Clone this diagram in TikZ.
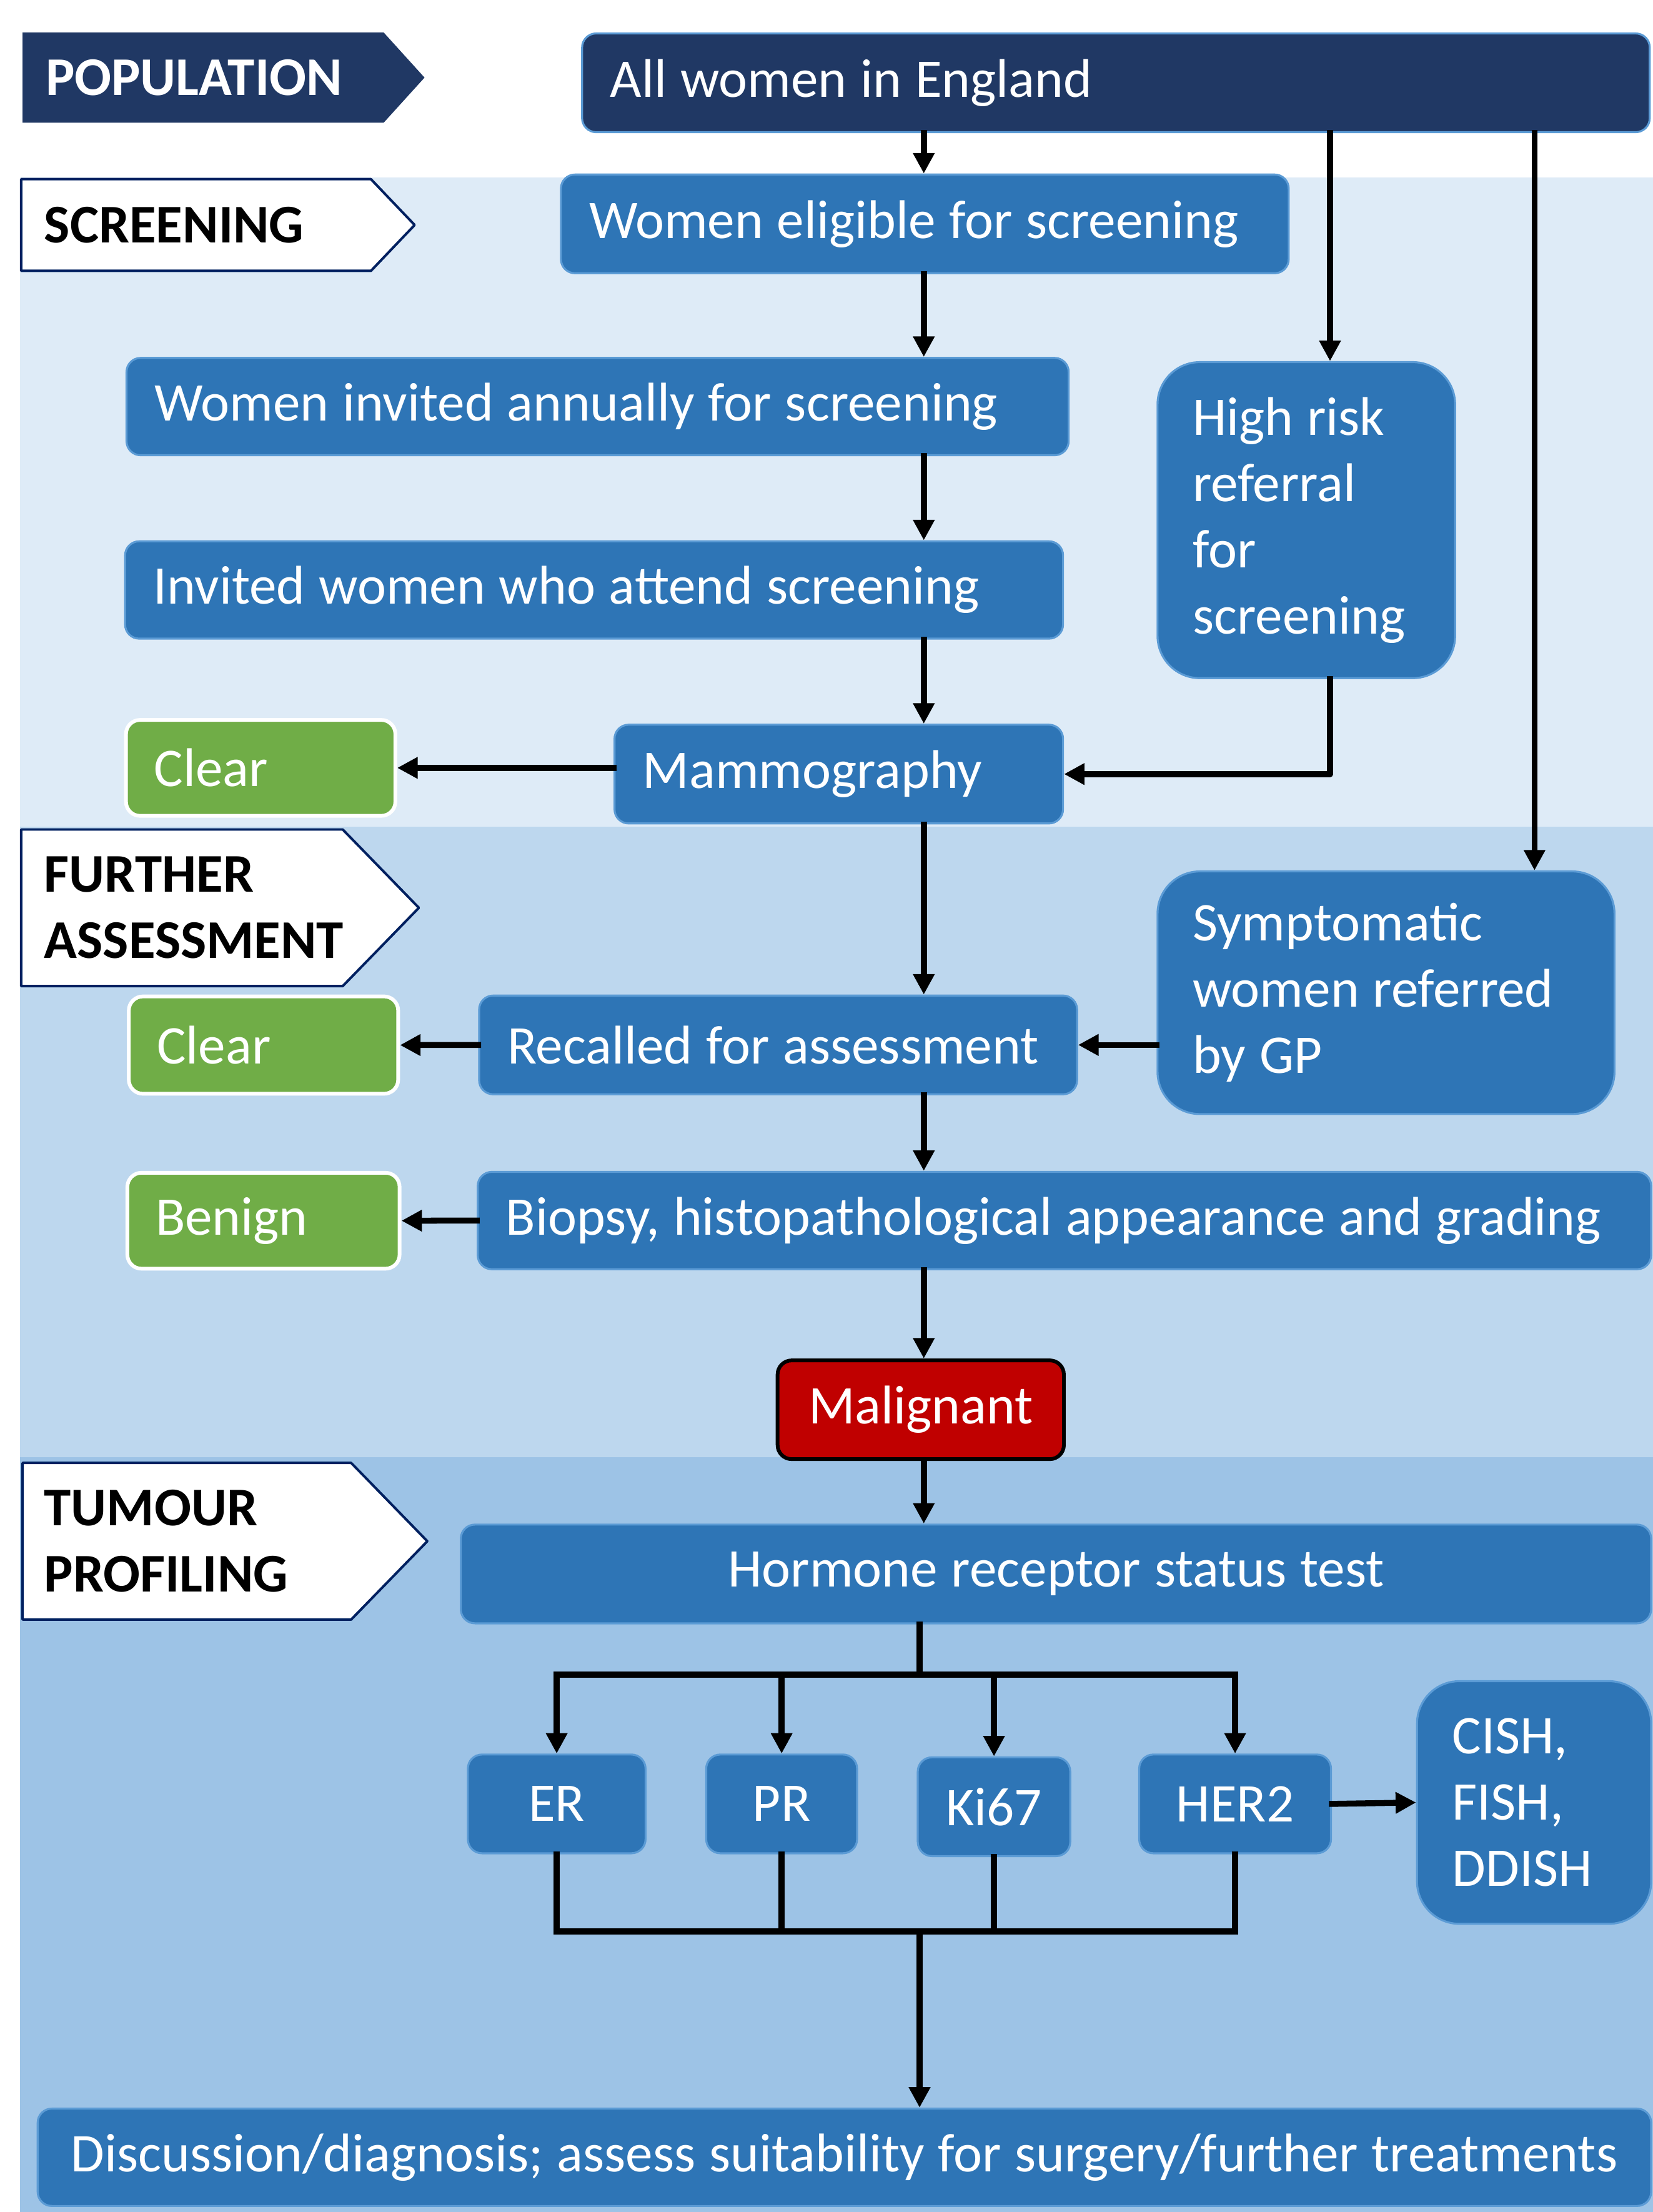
\documentclass[tikz,border=0pt]{standalone}
\usepackage{fontspec}
\setmainfont{Carlito}
\usetikzlibrary{arrows.meta}
\definecolor{navy}{HTML}{203864}
\definecolor{tagline}{HTML}{002060}
\definecolor{boxblue}{HTML}{2E75B6}
\definecolor{edgeblue}{HTML}{5B9BD5}
\definecolor{bandA}{HTML}{DEEBF7}
\definecolor{bandB}{HTML}{BDD7EE}
\definecolor{bandC}{HTML}{9DC3E6}
\definecolor{okgreen}{HTML}{70AD47}
\definecolor{alarm}{HTML}{C00000}
\newcommand\chartfont{\fontsize{22}{26.7}\selectfont}
\tikzset{
	box/.style={draw=edgeblue, line width=0.8pt, fill=boxblue, text=white, rounded corners=0.2cm,
		inner xsep=0.4cm, inner ysep=0pt, anchor=north west, align=left,
		execute at begin node={\spaceskip=0.25em\relax}},
	tall/.style={rounded corners=0.6cm, inner xsep=0.5cm},
	sz/.code 2 args={\pgfmathsetlengthmacro\boxw{#1*0.02cm-2*\pgfkeysvalueof{/pgf/inner xsep}}%
		\tikzset{text width=\boxw, minimum height=#2*0.02cm}},
	szc/.style 2 args={align=center, minimum width=#1*0.02cm, minimum height=#2*0.02cm},
	okbox/.style={box, fill=okgreen, draw=white, line width=1.5pt},
	badbox/.style={box, fill=alarm, draw=black, line width=1.5pt},
	tagw/.style={fill=white, draw=tagline, line width=1pt},
	tagtext/.style={anchor=west, inner sep=0pt, font=\chartfont\bfseries, align=left},
	link/.style={line width=2.4pt, line cap=rect},
	arr/.style={link, ->},
}

\begin{document}
\begin{tikzpicture}[x=0.02cm, y=-0.02cm, font=\chartfont, line join=round,
		>={Triangle[length=0.29cm, width=0.29cm]}]
	\useasboundingbox (0,0) rectangle (1172,1568);
	% bands
	\fill[bandA] (14,126) rectangle (1172,586);
	\fill[bandB] (14,586) rectangle (1172,1033);
	\fill[bandC] (14,1033) rectangle (1172,1568);
	% stage tags
	\fill[navy] (16,23) -- (272,23) -- (301,55) -- (272,87) -- (16,87) -- cycle;
	\node[tagtext, text=white] (tpop) at (32,55) {POPULATION};
	\path[tagw] (15,127) -- (263,127) -- (294,159.5) -- (263,192) -- (15,192) -- cycle;
	\node[tagtext] (tscreen) at (31,159.5) {SCREENING};
	\path[tagw] (15,588) -- (243,588) -- (297,643.5) -- (243,699) -- (15,699) -- cycle;
	\node[tagtext] (tassess) at (31,643.5) {FURTHER\\ASSESSMENT};
	\path[tagw] (16,1037) -- (249,1037) -- (303,1092.5) -- (249,1148) -- (16,1148) -- cycle;
	\node[tagtext] (tprofile) at (31,1092.5) {TUMOUR\\PROFILING};
	% boxes
	\node[box, fill=navy, sz={757}{70}] (all) at (412,23) {All women in England};
	\node[box, sz={516}{70}] (elig) at (397,123) {Women eligible for screening};
	\node[box, sz={668}{69}] (inv) at (89,253) {Women invited annually for screening};
	\node[box, tall, sz={211}{224}] (high) at (820,256) {High risk\\referral\\for\\screening};
	\node[box, sz={665}{69}] (attend) at (88,383) {Invited women who attend screening};
	\node[box, sz={318}{70}] (mammo) at (435,513) {Mammography};
	\node[okbox, sz={191}{68}] (clearA) at (88,509) {Clear};
	\node[box, tall, sz={324}{172}] (symp) at (820,617) {Symptomatic\\women referred\\by GP};
	\node[box, sz={424}{70}] (recall) at (339,705) {Recalled for assessment};
	\node[okbox, sz={191}{69}] (clearB) at (90,705) {Clear};
	\node[box, sz={832}{69}] (biopsy) at (338,830) {Biopsy, histopathological appearance and grading};
	\node[okbox, sz={193}{68}] (benign) at (89,830) {Benign};
	\node[badbox, szc={203}{70}] (malig) at (550,963) {Malignant};
	\node[box, szc={844}{70}] (horm) at (326,1080) {Hormone receptor status test};
	\node[box, szc={126}{70}] (er) at (331,1243) {ER};
	\node[box, szc={107}{70}] (pr) at (500,1243) {PR};
	\node[box, szc={107}{70}] (ki) at (650,1245) {Ki67};
	\node[box, szc={136}{70}] (her) at (807,1243) {HER2};
	\node[box, tall, sz={166}{172}] (cish) at (1004,1191) {CISH,\\FISH,\\DDISH};
	\node[box, szc={1144}{69}] (disc) at (26,1494) {Discussion/diagnosis; assess suitability for surgery/further treatments};
	% connectors
	\coordinate (spine) at (655,0);
	\coordinate (hr) at (943,0);
	\coordinate (sy) at (1088,0);
	\draw[arr] (spine |- all.south) -- (spine |- elig.north);
	\draw[arr] (hr |- all.south) -- (hr |- high.north);
	\draw[arr] (sy |- all.south) -- (sy |- symp.north);
	\draw[arr] (spine |- elig.south) -- (spine |- inv.north);
	\draw[arr] (spine |- inv.south) -- (spine |- attend.north);
	\draw[arr] (spine |- attend.south) -- (spine |- mammo.north);
	\draw[arr] (hr |- high.south) |- (mammo.east);
	\draw[arr] (mammo.west |- clearA.east) -- (clearA.east);
	\draw[arr] (spine |- mammo.south) -- (spine |- recall.north);
	\draw[arr] (symp.west |- recall.east) -- (recall.east);
	\draw[arr] (recall.west) -- (clearB.east);
	\draw[arr] (spine |- recall.south) -- (spine |- biopsy.north);
	\draw[arr] (biopsy.west) -- (benign.east);
	\draw[arr] (spine |- biopsy.south) -- (spine |- malig.north);
	\draw[arr] (spine |- malig.south) -- (spine |- horm.north);
	\coordinate (fanA) at (652,1187);
	\coordinate (fanB) at (652,1369);
	\draw[link] (fanA |- horm.south) -- (fanA);
	\draw[link] (er |- fanA) -- (her |- fanA);
	\foreach \t in {er,pr,ki,her}
		\draw[arr] (\t |- fanA) -- (\t.north);
	\foreach \t in {er,pr,ki,her}
		\draw[link] (\t.south) -- (\t |- fanB);
	\draw[link] (er |- fanB) -- (her |- fanB);
	\draw[arr] (fanB) -- (fanB |- disc.north);
	\draw[arr] (her.east) -- (cish.west);
\end{tikzpicture}
\end{document}
